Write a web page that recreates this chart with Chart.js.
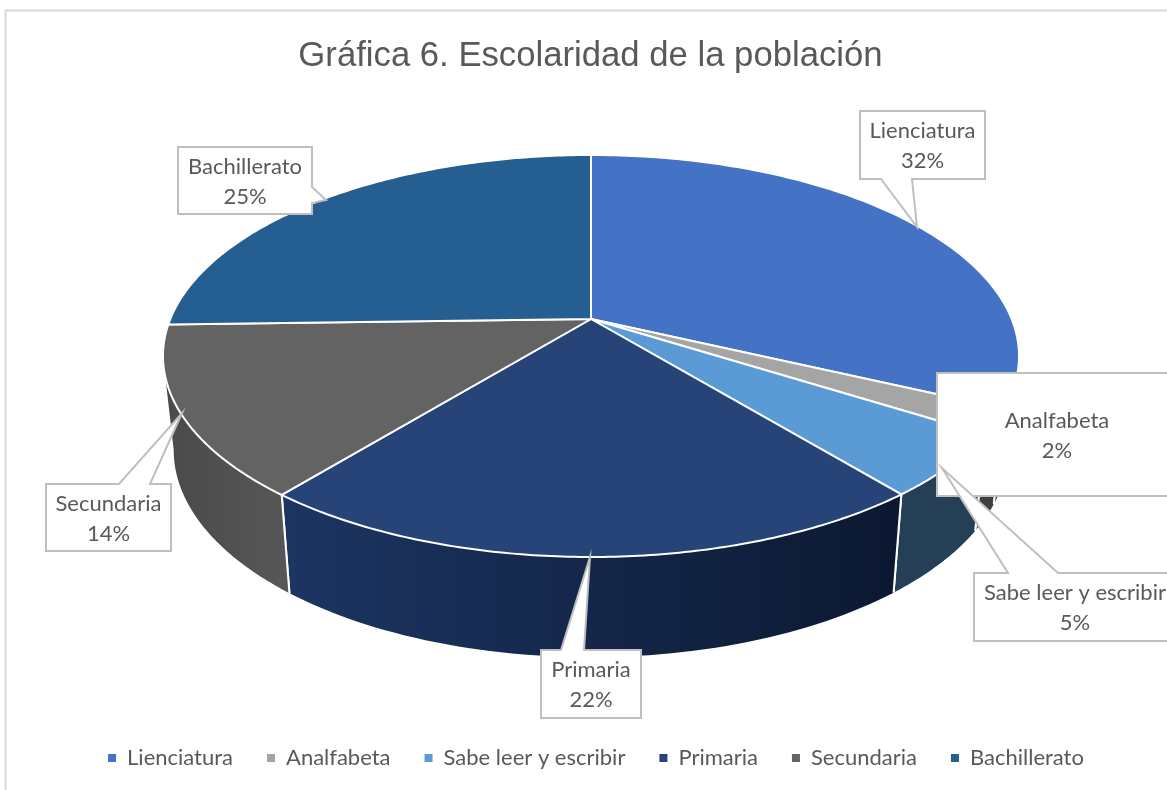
<!DOCTYPE html>
<html>
<head>
<meta charset="utf-8">
<style>
html,body{margin:0;padding:0;background:#fff;overflow:hidden}
#wrap{width:1167px;height:790px;position:relative}
</style>
<script src="https://cdn.jsdelivr.net/npm/chart.js@4/dist/chart.umd.js"></script>
</head>
<body>
<div id="wrap"><canvas id="c" width="1167" height="790"></canvas></div>
<script>
const chartTitle = 'Gráfica 6. Escolaridad de la población';
const categories = ['Lienciatura', 'Analfabeta', 'Sabe leer y escribir', 'Primaria', 'Secundaria', 'Bachillerato'];
const shares = [32, 2, 5.1, 21.75, 13.7, 25.45];

const topColors = ['#4472c4', '#a5a5a5', '#5b9bd5', '#264478', '#636363', '#255e91'];
const wallLeft  = ['#223a68', '#404040', '#243f56', '#1c3562', '#4a4a4a', '#1c4669'];
const wallRight = ['#223a68', '#404040', '#243f56', '#0c1831', '#575757', '#1c4669'];

const UI_FONT = 'Lato, "Open Sans", sans-serif';
const UI_SIZE = 22;
const TEXT = '#595959';

/* perspective of the disc */
const view = { cx: 591, apexY: 319, a: 194.2, b: 420.7, k: 0.184, floorY: 412, floorSX: 0.975, floorSY: 1.03 };
function project(theta, floor) {
  const u = Math.sin(theta), v = Math.cos(theta), w = 1 + view.k * v;
  const dx = view.b * u / w, dy = -view.a * v / w;
  return floor
    ? [view.cx + dx * view.floorSX, view.floorY + dy * view.floorSY]
    : [view.cx + dx, view.apexY + dy];
}

/* callouts: [categoryIndex, textCentreX, firstLineY, outline] */
const callouts = [
  [0, 922.5, 131, [[860,111],[985,111],[985,179],[912,179],[917,227],[881,179],[860,179]]],
  [5, 245, 167, [[178,147],[312,147],[312,187],[326,200],[312,203],[312,214],[178,214]]],
  [4, 108.5, 504, [[46,484],[119,484],[182,413],[150,484],[171,484],[171,551],[46,551]]],
  [3, 591, 670, [[541,650],[561,650],[590,557],[584,650],[641,650],[641,718],[541,718]]],
  [1, 1057, 421, [[937,373],[1175,373],[1175,496],[937,496]]],
  [2, 1075, 593, [[974,573],[1008,573],[942,468],[1058,573],[1175,573],[1175,641],[974,641]]]
];

const disc3d = {
  id: 'disc3d',
  afterLayout(chart) {
    chart.titleBlock.left += 7; chart.titleBlock.right += 7;
    chart.legend.left += 12.5; chart.legend.right += 12.5;
  },
  beforeDraw(chart) {
    const g = chart.ctx;
    g.save();
    g.fillStyle = '#fff';
    g.fillRect(0, 0, chart.width, chart.height);
    g.strokeStyle = '#d9d9d9';
    g.lineWidth = 2;
    g.beginPath();
    g.moveTo(5.5, 790); g.lineTo(5.5, 10.5); g.lineTo(1167, 10.5);
    g.stroke();
    g.restore();
  },
  beforeDatasetDraw() { return false; },
  afterDatasetsDraw(chart) {
    const g = chart.ctx;
    const arcs = chart.getDatasetMeta(0).data;
    const off = Math.PI / 2;
    const wallA = 100.6 * Math.PI / 180, wallB = 259.4 * Math.PI / 180;
    g.save();
    g.lineJoin = 'round';
    /* side wall */
    arcs.forEach((arc, i) => {
      const s = Math.max(arc.startAngle + off, wallA), e = Math.min(arc.endAngle + off, wallB);
      if (e <= s) return;
      const n = 60, up = [], low = [];
      for (let j = 0; j <= n; j++) {
        const t = s + (e - s) * j / n;
        up.push(project(t, false)); low.push(project(t, true));
      }
      const xs = up.concat(low).map(p => p[0]);
      const grad = g.createLinearGradient(Math.min(...xs), 0, Math.max(...xs), 0);
      grad.addColorStop(0, wallLeft[i]); grad.addColorStop(1, wallRight[i]);
      g.fillStyle = grad;
      g.beginPath();
      up.forEach((p, j) => j ? g.lineTo(p[0], p[1]) : g.moveTo(p[0], p[1]));
      low.slice().reverse().forEach(p => g.lineTo(p[0], p[1]));
      g.closePath();
      g.fill();
      g.strokeStyle = '#fff'; g.lineWidth = 2;
      [0, n].forEach(idx => {
        const tv = idx === 0 ? arc.startAngle + off : arc.endAngle + off;
        if (tv <= wallA || tv >= wallB) return;
        g.beginPath(); g.moveTo(up[idx][0], up[idx][1]); g.lineTo(low[idx][0], low[idx][1]); g.stroke();
      });
    });
    /* top face */
    arcs.forEach((arc, i) => {
      const s = arc.startAngle + off, e = arc.endAngle + off, n = 120;
      g.beginPath();
      g.moveTo(view.cx, view.apexY);
      for (let j = 0; j <= n; j++) {
        const p = project(s + (e - s) * j / n, false);
        g.lineTo(p[0], p[1]);
      }
      g.closePath();
      g.fillStyle = topColors[i];
      g.fill();
      g.strokeStyle = '#fff'; g.lineWidth = 2;
      g.stroke();
    });
    /* callouts */
    const total = shares.reduce((a, b) => a + b, 0);
    callouts.forEach(([idx, tx, ty, pts]) => {
      g.beginPath();
      pts.forEach((p, j) => j ? g.lineTo(p[0], p[1]) : g.moveTo(p[0], p[1]));
      g.closePath();
      g.fillStyle = '#fff'; g.fill();
      g.strokeStyle = '#bfbfbf'; g.lineWidth = 2; g.lineJoin = 'miter'; g.stroke();
      g.fillStyle = TEXT;
      g.font = UI_SIZE + 'px ' + UI_FONT;
      g.textAlign = 'center'; g.textBaseline = 'middle';
      g.fillText(categories[idx], tx, ty);
      g.fillText(Math.round(shares[idx] / total * 100) + '%', tx, ty + 30);
    });
    g.restore();
  }
};

new Chart(document.getElementById('c'), {
  type: 'pie',
  data: {
    labels: categories,
    datasets: [{ data: shares, backgroundColor: topColors, borderWidth: 0 }]
  },
  plugins: [disc3d],
  options: {
    responsive: false,
    animation: false,
    layout: { padding: { bottom: 11 } },
    plugins: {
      tooltip: { enabled: false },
      title: {
        display: true,
        text: chartTitle,
        color: TEXT,
        font: { family: '"Liberation Sans", Arial, sans-serif', size: 34.7, weight: 'normal' },
        padding: { top: 36, bottom: 10 }
      },
      legend: {
        position: 'bottom',
        labels: {
          boxWidth: 8, boxHeight: 8, padding: 34, color: TEXT,
          font: { family: UI_FONT, size: UI_SIZE }
        }
      }
    }
  }
});
</script>
</body>
</html>
